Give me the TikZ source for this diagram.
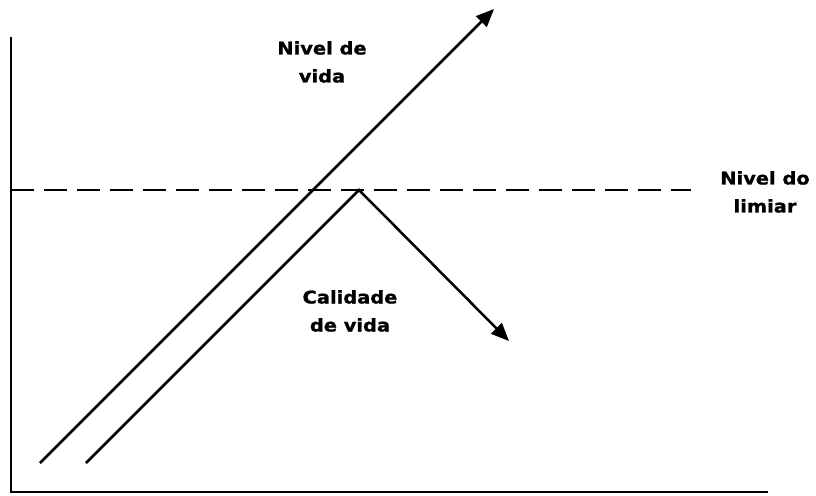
\documentclass[tikz,border=0pt]{standalone}
\usepackage{fontspec}
\newfontfamily\lblfont{DejaVu Sans}[FakeStretch=1.11, BoldFeatures={FakeBold=1.2}]
\usetikzlibrary{arrows.meta}

\begin{document}
\begin{tikzpicture}[x=1pt, y=-1pt,
  lbl/.style={font=\lblfont\bfseries\fontsize{17.5}{28}\selectfont, align=center, anchor=north, inner sep=0pt},
  ax/.style={line width=2.8pt},
  ln/.style={line width=2.5pt, -{Triangle[length=18pt, width=15pt]}}]
\useasboundingbox (0,0) rectangle (816,495);

\coordinate (top) at (11,37);
\coordinate (org) at (11,492);
\coordinate (right) at (768,492);
\draw[ax] (top) -- (org) -- (right);

\coordinate (thrA) at (11,190);
\coordinate (thrB) at (691,190);
\draw[line width=2.4pt, dash pattern=on 23pt off 10pt] (thrA) -- (thrB);

\coordinate (vidaA) at (40,463);
\coordinate (vidaB) at (494,9);
\draw[ln] (vidaA) -- (vidaB);

\coordinate (calA) at (86,463);
\coordinate (peak) at (359,190);
\coordinate (calB) at (509,341);
\draw[ln] (calA) -- (peak) -- (calB);

\node[lbl] (nivelvida) at (322,41) {Nivel de\\vida};
\node[lbl] (limiar) at (765,171) {Nivel do\\limiar};
\node[lbl] (calidade) at (350,290) {Calidade\\de vida};
\end{tikzpicture}
\end{document}
